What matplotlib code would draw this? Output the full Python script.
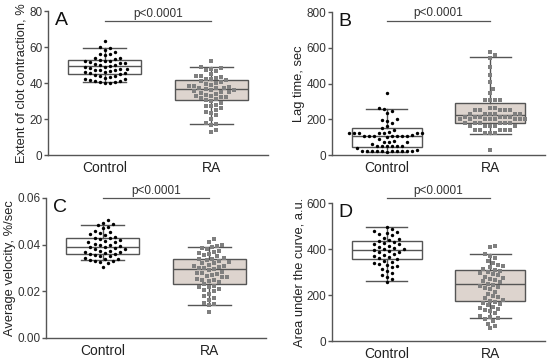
import numpy as np
import matplotlib.pyplot as plt

plt.rcParams['font.family'] = ['Liberation Sans', 'DejaVu Sans']

groups = ['Control', 'RA']

# A - extent of clot contraction, %
contr_ctrl = [63.5, 60, 59.5, 58.5, 57, 56, 56, 55.5, 54, 54, 53.5, 53, 52.5, 52, 52,
              51.5, 51, 51, 50.5, 50, 50, 49.5, 49, 49, 48.5, 48, 48, 47.5, 47, 47,
              46.5, 46, 46, 45.5, 45.5, 45, 44.5, 44, 44, 43.5, 43, 42, 42, 41.5, 41,
              41, 40.5, 40, 40, 40.5]
contr_ra = [52, 49, 48.5, 48, 47, 46.5, 45, 44, 44, 43.5, 43, 42.5, 42, 41.5, 41, 40.5,
            40, 39.5, 39, 38.5, 38.5, 38, 37.5, 37, 37, 36.5, 36, 36, 35.5, 35, 35, 34.5,
            34, 33.5, 33, 33, 32.5, 32, 31.5, 31, 30.5, 30, 29, 28, 27.5, 27, 26, 25, 24,
            23.5, 22, 20, 18, 17.5, 16.5, 14, 13]
contr_box_ctrl = [40.5, 45, 49.5, 53, 59.5]   # whisker low, q1, median, q3, whisker high
contr_box_ra = [17.5, 30.5, 36.5, 41.5, 49]

# B - lag time, sec
lag_ctrl = [345, 265, 260, 245, 235, 200, 195, 190, 180, 160, 150, 140, 130,
            125, 125, 125, 125, 125, 125, 125, 110,
            105, 105, 105, 105, 105, 105, 105, 100, 90, 80, 75, 75, 70, 60,
            50, 50, 50, 50, 50, 50, 40, 30,
            25, 25, 25, 25, 25, 20, 20, 20, 20, 20, 15]
lag_ra = [575, 560, 545, 490, 450, 410, 370, 345, 310, 310, 310, 310, 265, 265,
          250, 250, 250, 250, 250, 230, 230, 230, 230, 230, 230,
          215, 215, 215, 215, 215, 215, 200, 200, 200, 200, 200, 200, 200, 200,
          180, 180, 180, 180, 180, 180, 160, 160, 160, 160, 160,
          140, 140, 140, 140, 140, 125, 125, 125, 30]
lag_box_ctrl = [15, 45, 105, 150, 260]
lag_box_ra = [120, 180, 225, 290, 550]

# C - average velocity, %/sec
vel_ctrl = [0.0505, 0.0495, 0.049, 0.0485, 0.0475, 0.047, 0.046, 0.0455, 0.045, 0.0445,
            0.044, 0.0435, 0.043, 0.043, 0.0425, 0.042, 0.0415, 0.041, 0.041, 0.0405,
            0.040, 0.040, 0.0395, 0.039, 0.039, 0.0385, 0.038, 0.038, 0.0375, 0.0375,
            0.037, 0.037, 0.0365, 0.036, 0.036, 0.0355, 0.035, 0.035, 0.0345, 0.034,
            0.034, 0.0335, 0.033, 0.033, 0.0325, 0.032, 0.0305]
vel_ra = [0.0425, 0.041, 0.040, 0.0395, 0.039, 0.0385, 0.038, 0.0375, 0.037, 0.0365,
          0.036, 0.0355, 0.035, 0.0345, 0.034, 0.034, 0.0335, 0.033, 0.0325, 0.032,
          0.032, 0.0315, 0.031, 0.031, 0.0305, 0.030, 0.030, 0.0295, 0.029, 0.0285,
          0.028, 0.028, 0.0275, 0.027, 0.0265, 0.026, 0.026, 0.0255, 0.025, 0.025,
          0.0245, 0.024, 0.023, 0.0225, 0.022, 0.022, 0.021, 0.0205, 0.020, 0.019,
          0.018, 0.017, 0.0165, 0.015, 0.0145, 0.014, 0.011]
vel_box_ctrl = [0.0335, 0.0362, 0.0391, 0.0427, 0.0485]
vel_box_ra = [0.014, 0.0233, 0.0297, 0.0338, 0.039]

# D - area under the curve, a.u.
auc_ctrl = [495, 485, 480, 475, 470, 465, 460, 450, 445, 440, 435, 430, 425, 420, 420,
            415, 410, 405, 400, 400, 395, 390, 385, 385, 380, 375, 370, 365, 360, 355,
            350, 345, 340, 335, 330, 325, 320, 315, 305, 295, 285, 280, 270, 255]
auc_ra = [415, 410, 380, 370, 360, 350, 340, 330, 325, 320, 315, 310, 305, 300, 295,
          290, 285, 280, 275, 270, 265, 260, 255, 250, 245, 240, 235, 230, 225, 215,
          205, 195, 190, 185, 180, 175, 170, 165, 160, 155, 150, 145, 140, 135, 130,
          120, 110, 105, 100, 95, 85, 75, 65, 55]
auc_box_ctrl = [262, 355, 395, 435, 495]
auc_box_ra = [100, 175, 248, 308, 378]

panels = [
    ('A', 'Extent of clot contraction, %', contr_ctrl, contr_ra, contr_box_ctrl, contr_box_ra,
     [0, 20, 40, 60, 80], ['0', '20', '40', '60', '80']),
    ('B', 'Lag time, sec', lag_ctrl, lag_ra, lag_box_ctrl, lag_box_ra,
     [0, 200, 400, 600, 800], ['0', '200', '400', '600', '800']),
    ('C', 'Average velocity, %/sec', vel_ctrl, vel_ra, vel_box_ctrl, vel_box_ra,
     [0, 0.02, 0.04, 0.06], ['0.00', '0.02', '0.04', '0.06']),
    ('D', 'Area under the curve, a.u.', auc_ctrl, auc_ra, auc_box_ctrl, auc_box_ra,
     [0, 200, 400, 600], ['0', '200', '400', '600']),
]
p_line_frac = [0.93, 0.94, 1.0, 1.035]

axes_rects = [
    [48 / 550, 1 - 155 / 360, 220 / 550, 144 / 360],
    [332 / 550, 1 - 155 / 360, 213 / 550, 143 / 360],
    [46 / 550, 1 - 338 / 360, 220 / 550, 140 / 360],
    [332 / 550, 1 - 341 / 360, 213 / 550, 138 / 360],
]

LINE = '#555555'
TEXT = '#333333'
RA_FILL = '#ddd4ce'


def swarm_x(ax, xc, values, d_px=5.0):
    """Beeswarm x positions computed in pixel space"""
    trans = ax.transData
    pts = trans.transform(np.column_stack([np.full(len(values), xc), values]))
    x0 = pts[0, 0]
    ypx = pts[:, 1]
    order = np.argsort(ypx)
    cands = [0.0]
    for j in range(1, 40):
        cands += [j * d_px / 2, -j * d_px / 2]
    placed = []
    offs = np.zeros(len(values))
    for i in order:
        y = ypx[i]
        for c in cands:
            if all((c - px) ** 2 + (y - py) ** 2 >= d_px ** 2 for px, py in placed):
                break
        placed.append((c, y))
        offs[i] = c
    back = trans.inverted().transform(np.column_stack([x0 + offs, ypx]))
    return back[:, 0]


fig = plt.figure(figsize=(5.5, 3.6), dpi=100)

for k, (letter, ylabel, ctrl, ra, bctrl, bra, yticks, ytl) in enumerate(panels):
    ax = fig.add_axes(axes_rects[k])
    ax.set_xlim(0.47, 2.53)
    ax.set_ylim(yticks[0], yticks[-1])

    stats = []
    for b in (bctrl, bra):
        stats.append(dict(whislo=b[0], q1=b[1], med=b[2], q3=b[3], whishi=b[4], fliers=[]))
    bp = ax.bxp(stats, positions=[1, 2], widths=0.68, patch_artist=True,
                showfliers=False, capwidths=0.4,
                boxprops=dict(edgecolor=LINE, linewidth=1.0),
                medianprops=dict(color=LINE, linewidth=1.0),
                whiskerprops=dict(color=LINE, linewidth=1.0),
                capprops=dict(color=LINE, linewidth=1.0))
    bp['boxes'][0].set_facecolor('white')
    bp['boxes'][1].set_facecolor(RA_FILL)

    xs = swarm_x(ax, 1, ctrl)
    ax.scatter(xs, ctrl, s=6, marker='o', color='black', linewidths=0, zorder=3)
    xs = swarm_x(ax, 2, ra)
    ax.scatter(xs, ra, s=7, marker='s', color='#7f7f7f', linewidths=0, zorder=3)

    for side in ('top', 'right'):
        ax.spines[side].set_visible(False)
    for side in ('left', 'bottom'):
        ax.spines[side].set_color(LINE)
        ax.spines[side].set_linewidth(1.0)

    ax.set_yticks(yticks)
    ax.set_yticklabels(ytl)
    ax.set_xticks([1, 2])
    ax.set_xticklabels(groups)
    ax.tick_params(axis='y', direction='out', length=3, width=1, color=LINE,
                   labelsize=8.5, labelcolor=TEXT, pad=1)
    ax.tick_params(axis='x', length=0, labelsize=10, labelcolor='#222222', pad=4)
    ax.set_ylabel(ylabel, fontsize=9.3, color='#222222', labelpad=1)

    # significance bar
    yl = p_line_frac[k]
    ax.plot([1, 2], [yl, yl], color=LINE, lw=0.9,
            transform=ax.get_xaxis_transform(), clip_on=False)
    ax.text(1.5, yl + 0.01, 'p<0.0001', ha='center', va='bottom', fontsize=8.5,
            color=TEXT, transform=ax.get_xaxis_transform())

    ax.text(0.03, 0.99, letter, transform=ax.transAxes, ha='left', va='top',
            fontsize=14, color='#111111')

fig.savefig('out.png', dpi=100)
